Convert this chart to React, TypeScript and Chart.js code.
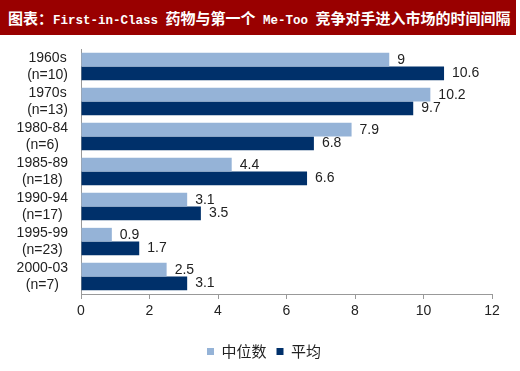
import React, { useEffect, useRef } from "react";
import { Chart, registerables } from "chart.js";

Chart.register(...registerables);

const categories: string[][] = [
  ["1960s", "(n=10)"],
  ["1970s", "(n=13)"],
  ["1980-84", "(n=6)"],
  ["1985-89", "(n=18)"],
  ["1990-94", "(n=17)"],
  ["1995-99", "(n=23)"],
  ["2000-03", "(n=7)"],
];
const medianValues = [9, 10.2, 7.9, 4.4, 3.1, 0.9, 2.5];
const meanValues = [10.6, 9.7, 6.8, 6.6, 3.5, 1.7, 3.1];
const seriesNames = ["中位数", "平均"];
const xTicks = [0, 2, 4, 6, 8, 10, 12];

const LIGHT = "#95B3D7";
const DARK = "#00306A";
const FONT = "'Liberation Sans', Arial, sans-serif";

const valueLabels = {
  id: "valueLabels",
  afterDatasetsDraw(chart: any) {
    const ctx = chart.ctx;
    ctx.save();
    ctx.font = `14px ${FONT}`;
    ctx.fillStyle = "#222";
    ctx.textAlign = "left";
    ctx.textBaseline = "middle";
    chart.data.datasets.forEach((ds: any, di: number) => {
      const meta = chart.getDatasetMeta(di);
      meta.data.forEach((el: any, i: number) => {
        ctx.fillText(String(ds.data[i]), el.x + 8, el.y);
      });
    });
    ctx.restore();
  },
};

// Category labels: each block right-aligned next to the axis, its lines centred within the block
const categoryLabels = {
  id: "categoryLabels",
  afterDraw(chart: any) {
    const ctx = chart.ctx;
    const yScale = chart.scales.y;
    const right = yScale.right - 13;
    const lineH = 17;
    ctx.save();
    ctx.font = `14px ${FONT}`;
    ctx.fillStyle = "#222";
    ctx.textAlign = "center";
    ctx.textBaseline = "middle";
    categories.forEach((lines, i) => {
      const y = yScale.getPixelForTick(i);
      const w = Math.max(...lines.map((l) => ctx.measureText(l).width));
      const cx = right - w / 2;
      const top = y - ((lines.length - 1) * lineH) / 2;
      lines.forEach((l, j) => ctx.fillText(l, cx, top + j * lineH));
    });
    ctx.restore();
  },
};

const legendShift = {
  id: "legendShift",
  afterLayout(chart: any) {
    if (chart.legend) {
      chart.legend.left += 18;
      chart.legend.right += 18;
    }
  },
};

export default function App() {
  const ref = useRef<HTMLCanvasElement>(null);
  useEffect(() => {
    document.body.style.margin = "0";
    const chart = new Chart(ref.current!, {
      type: "bar",
      data: {
        labels: categories,
        datasets: [
          { label: seriesNames[0], data: medianValues, backgroundColor: LIGHT, categoryPercentage: 0.78, barPercentage: 1.0 },
          { label: seriesNames[1], data: meanValues, backgroundColor: DARK, categoryPercentage: 0.78, barPercentage: 1.0 },
        ],
      },
      options: {
        indexAxis: "y",
        animation: false,
        responsive: false,
        maintainAspectRatio: false,
        layout: { padding: { top: 49, right: 28, left: 0, bottom: 2 } },
        scales: {
          x: {
            min: 0,
            max: 12,
            afterBuildTicks: (scale: any) => {
              scale.ticks = xTicks.map((v) => ({ value: v }));
            },
            afterFit: (scale: any) => {
              scale.height = 40;
            },
            grid: { display: true, drawOnChartArea: false, drawTicks: true, tickLength: 5, color: "#999" },
            border: { display: true, color: "#999", width: 1 },
            ticks: { font: { family: FONT, size: 14 }, color: "#222", padding: 4 },
          },
          y: {
            afterFit: (scale: any) => {
              scale.width = 81;
            },
            grid: { display: false, drawTicks: false },
            border: { display: true, color: "#999", width: 1 },
            ticks: { display: false, autoSkip: false },
          },
        },
        plugins: {
          legend: {
            position: "bottom",
            labels: {
              boxWidth: 7,
              boxHeight: 7,
              font: { family: "'Noto Sans CJK SC', sans-serif", size: 15 },
              color: "#222",
              padding: 10,
            },
          },
          tooltip: { enabled: false },
          title: { display: false },
        },
      },
      plugins: [valueLabels, categoryLabels, legendShift],
    });
    return () => chart.destroy();
  }, []);

  const cjk: React.CSSProperties = { fontFamily: "'Noto Sans CJK SC', sans-serif", fontSize: 15 };
  const mono: React.CSSProperties = { fontFamily: "'Liberation Mono', monospace", fontSize: 12.5 };

  return (
    <div style={{ position: "relative", width: 520, height: 371, background: "#fff", overflow: "hidden" }}>
      <canvas ref={ref} width={520} height={371} style={{ position: "absolute", left: 0, top: 0 }} />
      <div
        style={{
          position: "absolute",
          left: 0,
          top: 0,
          width: 516,
          height: 35,
          background: "#990000",
          color: "#fff",
          fontWeight: "bold",
          lineHeight: "35px",
          paddingLeft: 8,
          boxSizing: "border-box",
          whiteSpace: "nowrap",
        }}
      >
        <span style={cjk}>图表：</span>
        <span style={mono}>First-in-Class </span>
        <span style={cjk}>药物与第一个</span>
        <span style={mono}> Me-Too </span>
        <span style={cjk}>竞争对手进入市场的时间间隔</span>
      </div>
    </div>
  );
}
